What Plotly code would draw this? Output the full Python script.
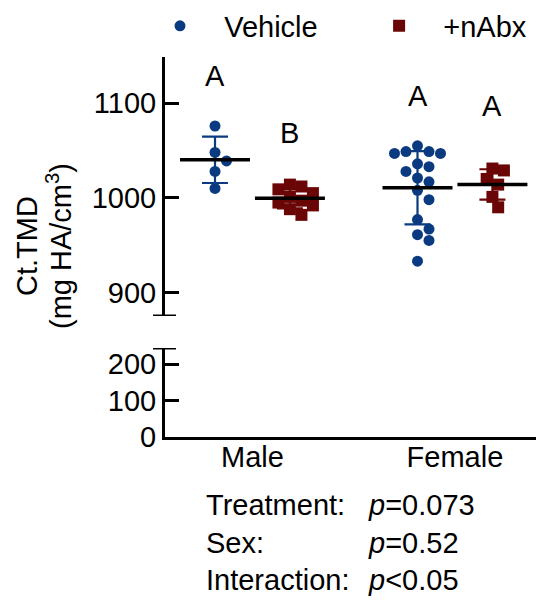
import numpy as np
import plotly.graph_objects as go

# ---------------- data ----------------
sexes = ["Male", "Female"]
treatments = ["Vehicle", "+nAbx"]

male_vehicle = [1076, 1048, 1039, 1028, 1010]
male_nabx = [1014, 1012, 1009, 1005, 1001, 997, 995, 992, 988, 982]
female_vehicle = [1055, 1049, 1047, 1047, 1049, 1036, 1033, 1028, 1021, 1017,
                  1008, 998, 977, 967, 961, 955, 933]
female_nabx = [1031, 1029, 1020, 1014, 1001, 990]

letters_male = ["A", "B"]
letters_female = ["A", "A"]
letter_heights_male = [1129, 1069]
letter_heights_female = [1108, 1097]

upper_ticks = [900, 1000, 1100]
lower_ticks = [0, 100, 200]

y_title_lines = ["Ct.TMD", "(mg HA/cm<sup>3</sup>)"]
stat_labels = ["Treatment:", "Sex:", "Interaction:"]
stat_values = ["<i>p</i>=0.073", "<i>p</i>=0.52", "<i>p</i>&lt;0.05"]

# ---------------- style / layout ----------------
BLUE = "#0a3a80"
RED = "#6b0606"
FONT = "Liberation Sans, Arial, sans-serif"
FS = 29

W, H = 544, 600
BODY = 8                       # page offset
PL, PT, PR, PB = 165, 57, 540, 437   # plot-area edges on the page
L, T = PL - BODY, PT - BODY
R, B = W - (PR - BODY), H - (PB - BODY)
PW = PR - PL
PH = PB - PT

x_range = [-0.432, 1.42]
y_up = [875, 1149]
y_low = [0, 244]
up_dom = [(PB - 316) / PH, 1.0]
low_dom = [0.0, (PB - 348) / PH]
OFF = 0.185

px_per_x = PW / (x_range[1] - x_range[0])
px_per_y = (up_dom[1] - up_dom[0]) * PH / (y_up[1] - y_up[0])


def px(xp):
    return (xp - PL) / PW


def py(yp):
    return (PB - yp) / PH


def swarm(values, diam=11.5):
    """Simple beeswarm: returns x offsets (data units) avoiding overlap."""
    vals = np.asarray(values, float)
    order = np.argsort(-vals)
    placed = []
    offs = np.zeros(len(vals))
    cands = [0.0]
    for j in range(1, 20):
        cands += [j * diam * 0.5, -j * diam * 0.5]
    for i in order:
        yp = vals[i] * px_per_y
        for c in cands:
            ok = all((c - a) ** 2 + (yp - b) ** 2 >= (diam * 0.98) ** 2 for a, b in placed)
            if ok:
                placed.append((c, yp))
                offs[i] = c / px_per_x
                break
    return offs


groups = [
    (0, -OFF, male_vehicle, BLUE, "circle", treatments[0], True),
    (0, OFF, male_nabx, RED, "square", treatments[1], True),
    (1, -OFF, female_vehicle, BLUE, "circle", treatments[0], False),
    (1, OFF, female_nabx, RED, "square", treatments[1], False),
]

fig = go.Figure()
for sx, off, vals, col, sym, name, show in groups:
    center = sx + off
    xo = center + swarm(vals)
    label = "\u00a0\u00a0\u00a0" + name + ("\u00a0" * 7 if name == "Vehicle" else "")
    fig.add_trace(go.Scatter(
        x=xo, y=vals, mode="markers", name=label,
        legendgroup=name, showlegend=show,
        marker=dict(color=col, symbol=sym, size=11 if sym == "circle" else 12,
                    line=dict(width=0)),
        xaxis="x", yaxis="y"))
    m = float(np.mean(vals))
    sd = float(np.std(vals, ddof=1))
    # SD error bars
    fig.add_trace(go.Scatter(
        x=[center], y=[m], mode="markers", showlegend=False,
        marker=dict(size=1, color="rgba(0,0,0,0)"),
        error_y=dict(type="data", array=[sd], visible=True, color=col,
                     thickness=2.2, width=13),
        xaxis="x", yaxis="y"))
    # mean line
    fig.add_trace(go.Scatter(
        x=[center], y=[m], mode="markers", showlegend=False,
        marker=dict(symbol="line-ew", size=50, color="black",
                    line=dict(color="black", width=3.5)),
        xaxis="x", yaxis="y"))

# letters
for sx, lets, hts in [(0, letters_male, letter_heights_male), (1, letters_female, letter_heights_female)]:
    for k, (lt, h) in enumerate(zip(lets, hts)):
        fig.add_annotation(x=sx + (-OFF if k == 0 else OFF), y=h, xref="x", yref="y",
                           text=lt, showarrow=False, font=dict(size=FS, color="black", family=FONT))

axis_common = dict(showline=True, linecolor="black", linewidth=3, ticks="inside",
                   ticklen=14, tickwidth=3, tickcolor="black", showgrid=False,
                   zeroline=False, tickfont=dict(size=FS, color="black", family=FONT))

fig.update_layout(
    width=W, height=H,
    margin=dict(l=L, r=R, t=T, b=B, autoexpand=False),
    paper_bgcolor="white", plot_bgcolor="white",
    font=dict(family=FONT, color="black", size=FS),
    xaxis=dict(range=x_range, anchor="y2", showline=True, linecolor="black", linewidth=3,
               tickvals=[0, 1], ticktext=sexes, ticks="", showgrid=False, zeroline=False,
               ticklabelstandoff=-8,
               tickfont=dict(size=FS, color="black", family=FONT)),
    yaxis=dict(domain=up_dom, range=y_up, anchor="x", tickvals=upper_ticks, **axis_common),
    yaxis2=dict(domain=low_dom, range=y_low, anchor="x", tickvals=lower_ticks, **axis_common),
    legend=dict(orientation="h", xref="paper", yref="paper",
                x=px(160), y=py(26), yanchor="middle", xanchor="left",
                font=dict(size=FS, color="black", family=FONT), itemsizing="trace",
                bgcolor="rgba(0,0,0,0)"),
)

# axis break end caps
fig.add_shape(type="line", xref="paper", yref="y", x0=px(153), x1=px(176),
              y0=y_up[0], y1=y_up[0], line=dict(color="black", width=3))
fig.add_shape(type="line", xref="paper", yref="y2", x0=px(153), x1=px(176),
              y0=y_low[1], y1=y_low[1], line=dict(color="black", width=3))

# y title (two rotated lines)
for line_txt, xc in zip(y_title_lines, [27, 59]):
    fig.add_annotation(xref="paper", yref="paper", x=px(xc), y=py(246),
                       text=line_txt, textangle=-90, showarrow=False,
                       xanchor="center", yanchor="middle",
                       font=dict(size=FS, color="black", family=FONT))

# stats
for i, (lab, val) in enumerate(zip(stat_labels, stat_values)):
    yc = 505 + i * 37.5
    fig.add_annotation(xref="paper", yref="paper", x=px(204), y=py(yc), text=lab,
                       showarrow=False, xanchor="left", yanchor="middle",
                       font=dict(size=FS, color="black", family=FONT))
    fig.add_annotation(xref="paper", yref="paper", x=px(366), y=py(yc), text=val,
                       showarrow=False, xanchor="left", yanchor="middle",
                       font=dict(size=FS, color="black", family=FONT))

fig.write_html("out.html")
